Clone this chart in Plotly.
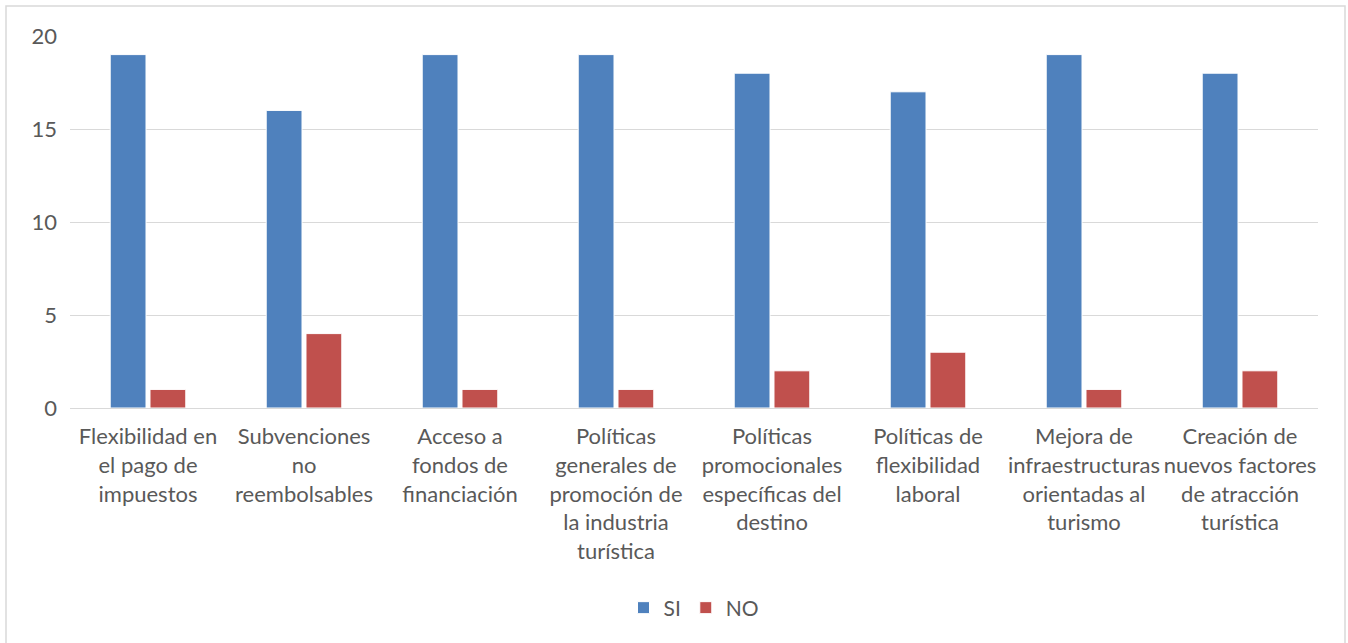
import plotly.graph_objects as go

categories = [
    "Flexibilidad en<br>el pago de<br>impuestos",
    "Subvenciones<br>no<br>reembolsables",
    "Acceso a<br>fondos de<br>financiación",
    "Políticas<br>generales de<br>promoción de<br>la industria<br>turística",
    "Políticas<br>promocionales<br>específicas del<br>destino",
    "Políticas de<br>flexibilidad<br>laboral",
    "Mejora de<br>infraestructuras<br>orientadas al<br>turismo",
    "Creación de<br>nuevos factores<br>de atracción<br>turística",
]
si_values = [19, 16, 19, 19, 18, 17, 19, 18]
no_values = [1, 4, 1, 1, 2, 3, 1, 2]
y_ticks = [0, 5, 10, 15, 20]

FONT = "Lato, Open Sans, sans-serif"
TXT = "#595959"

fig = go.Figure()
fig.add_trace(go.Bar(name="SI", x=categories, y=si_values,
                     marker=dict(color="#4F81BD", line=dict(color="#FFFFFF", width=1))))
fig.add_trace(go.Bar(name="NO", x=categories, y=no_values,
                     marker=dict(color="#C0504D", line=dict(color="#FFFFFF", width=1))))

W, H = 1348, 643
L, R, T, B = 70, 30, 36, 235
pw, ph = W - L - R, H - T - B

fig.update_layout(
    width=W, height=H,
    margin=dict(l=L, r=R, t=T, b=B),
    paper_bgcolor="white", plot_bgcolor="white",
    barmode="group", bargap=0.49, bargroupgap=0.1,
    font=dict(family=FONT, size=22, color=TXT),
    legend=dict(orientation="h", x=0.5, xanchor="center",
                y=(408 - 608) / ph, yanchor="middle",
                font=dict(size=21, color=TXT), itemwidth=30,
                traceorder="normal"),
    xaxis=dict(showgrid=False, showline=True, linecolor="#D9D9D9", linewidth=1,
               ticks="", tickangle=0, ticklabelstandoff=9,
               tickfont=dict(size=22, color=TXT)),
    yaxis=dict(range=[0, 20], tickvals=y_ticks, showgrid=True, gridcolor="#D9D9D9",
               gridwidth=1, zeroline=False, showline=False, ticks="",
               ticklabelstandoff=12, tickfont=dict(size=22, color=TXT)),
    shapes=[dict(type="rect", xref="paper", yref="paper",
                 x0=(6 - L) / pw, x1=(1345 - L) / pw,
                 y0=(408 - 660) / ph, y1=(408 - 6) / ph,
                 line=dict(color="#D9D9D9", width=1.5), fillcolor="rgba(0,0,0,0)",
                 layer="below")],
)

fig.write_html("out.html")
